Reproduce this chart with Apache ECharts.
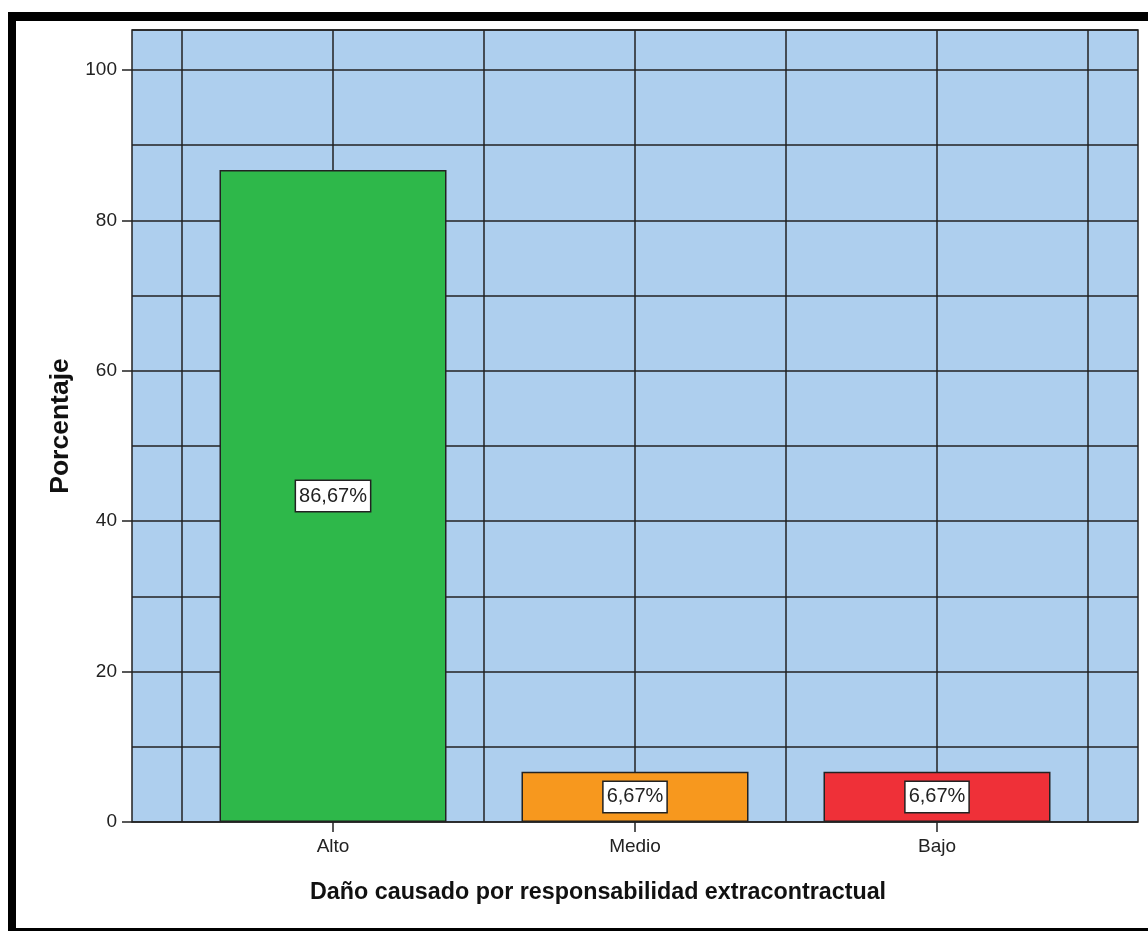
<!DOCTYPE html>
<html><head><meta charset="utf-8">
<script src="https://cdn.jsdelivr.net/npm/echarts@6/dist/echarts.min.js"></script>
<style>
html,body{margin:0;padding:0;background:#fff;overflow:hidden;}
#frame{position:absolute;left:8px;top:12px;width:1200px;height:907px;border:8px solid #000;border-top-width:9px;box-sizing:content-box;}
#chart{position:absolute;left:0;top:0;width:1148px;height:931px;}
</style></head><body>
<div id="frame"></div><div id="chart"></div>
<script>
const categories = ['Alto', 'Medio', 'Bajo'];
const percentages = [86.67, 6.67, 6.67];
const barColors = ['#2eb84a', '#f7981e', '#ef3038'];
const yAxisTitle = 'Porcentaje';
const xAxisTitle = 'Daño causado por responsabilidad extracontractual';

const FONT = '"Liberation Sans", Arial, sans-serif';
const LINE = { color: '#222', width: 1.5 };

const chart = echarts.init(document.getElementById('chart'), null, { renderer: 'canvas' });
chart.setOption({
  animation: false,
  title: {
    text: xAxisTitle, left: 305, top: 876,
    textStyle: { fontSize: 23.3, fontWeight: 'bold', color: '#111', fontFamily: FONT }
  },
  grid: [
    { left: 132, right: 10, top: 30, bottom: 109, show: true, backgroundColor: '#aecfee', borderColor: '#222', borderWidth: 1.5 },
    { left: 182, right: 60, top: 30, bottom: 109 },
    { left: 132, right: 10, top: 70, bottom: 109 },
    { left: 182, right: 60, top: 30, bottom: 109 }
  ],
  xAxis: [
    { gridIndex: 0, type: 'value', min: 0, max: 1, show: false },
    { gridIndex: 1, type: 'value', min: -0.5, max: 2.5, interval: 0.5,
      axisLine: { show: false }, axisTick: { show: false }, axisLabel: { show: false },
      splitLine: { show: true, lineStyle: LINE } },
    { gridIndex: 2, type: 'value', min: 0, max: 1, show: false },
    { gridIndex: 3, type: 'category', data: categories, boundaryGap: true,
      axisLine: { show: false },
      axisTick: { show: true, alignWithLabel: true, length: 10, lineStyle: LINE },
      axisLabel: { fontSize: 19, color: '#222', margin: 15, fontFamily: FONT },
      splitLine: { show: false } }
  ],
  yAxis: [
    { gridIndex: 0, type: 'value', min: 0, max: 105.3, interval: 10,
      axisLine: { show: false }, axisTick: { show: false }, axisLabel: { show: false },
      splitLine: { show: true, lineStyle: LINE },
      name: yAxisTitle, nameLocation: 'middle', nameGap: 58,
      nameTextStyle: { fontSize: 26.5, fontWeight: 'bold', color: '#111', fontFamily: FONT } },
    { gridIndex: 1, type: 'value', min: 0, max: 105.3, show: false },
    { gridIndex: 2, type: 'value', min: 0, max: 100, interval: 20,
      axisLine: { show: false },
      axisTick: { show: true, length: 10, lineStyle: LINE },
      axisLabel: { fontSize: 19, color: '#222', margin: 15, fontFamily: FONT },
      splitLine: { show: false } },
    { gridIndex: 3, type: 'value', min: 0, max: 105.3, show: false }
  ],
  series: [{
    type: 'bar',
    xAxisIndex: 1, yAxisIndex: 1,
    barWidth: 227,
    data: categories.map((c, i) => ({ name: c, value: [i, percentages[i]], itemStyle: { color: barColors[i] } })),
    itemStyle: { borderColor: '#222', borderWidth: 1.5 },
    label: {
      show: true, position: 'inside',
      formatter: p => p.value[1].toFixed(2).replace('.', ',') + '%',
      fontSize: 20, color: '#222', fontFamily: FONT,
      backgroundColor: '#fff', borderColor: '#222', borderWidth: 1.5,
      padding: [5, 3, 5, 3]
    }
  }]
});
</script>
</body></html>
